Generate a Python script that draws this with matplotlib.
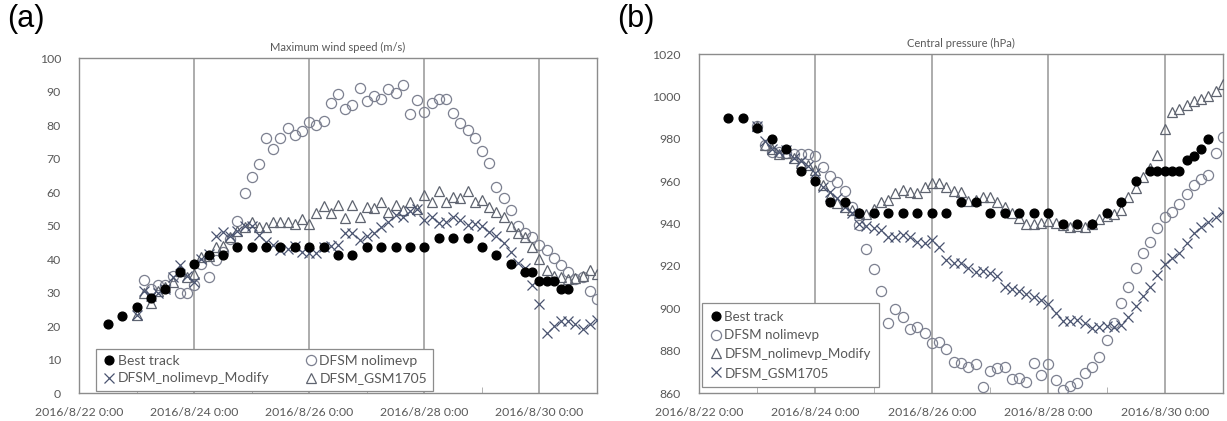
#Chart: typhoon track forecasts, wind speed (a) and central pressure (b)
import pandas as pd
import matplotlib
matplotlib.use('Agg')
import matplotlib.pyplot as plt
import matplotlib.dates as mdates

#Best track (hours after 2016/8/22 0:00)
best_wind_hours = [12, 18, 24, 30, 36, 42, 48, 54, 60, 66, 72, 78, 84, 90, 96, 102, 108, 114,
                   120, 126, 132, 138, 144, 150, 156, 162, 168, 174, 180, 186, 189, 192, 195, 198, 201, 204]
best_wind = [20.6, 23.1, 25.7, 28.3, 30.9, 36.0, 38.6, 41.2, 41.2, 43.7, 43.7, 43.7, 43.7, 43.7, 43.7, 43.7,
             41.2, 41.2, 43.7, 43.7, 43.7, 43.7, 43.7, 46.3, 46.3, 46.3, 43.7, 41.2, 38.6, 36.0, 36.0,
             33.4, 33.4, 33.4, 30.9, 30.9]
best_pres_hours = [12, 18, 24, 30, 36, 42, 48, 54, 60, 66, 72, 78, 84, 90, 96, 102, 108, 114,
                   120, 126, 132, 138, 144, 150, 156, 162, 168, 174, 180, 186, 189, 192, 195, 198, 201, 204, 207, 210]
best_pres = [990, 990, 985, 980, 975, 965, 960, 950, 950, 945, 945, 945, 945, 945, 945, 945, 950, 950,
             945, 945, 945, 945, 945, 940, 940, 940, 945, 950, 960, 965, 965, 965, 965, 965, 970, 972, 975, 980]

#Model runs, every 3 h from 2016/8/23 0:00 (wind of nolimevp starts at 3:00)
nolimevp_wind = [33.7, 31.0, 32.2, 32.2, 35.0, 29.8, 30.0, 32.3, 38.5, 34.7, 39.7, 42.0, 45.9, 51.4, 59.8, 64.4,
                 68.4, 76.0, 72.8, 76.0, 79.2, 77.0, 78.3, 80.8, 80.0, 81.3, 86.7, 89.2, 84.7, 85.9, 91.0, 87.2,
                 88.8, 87.8, 90.7, 89.5, 91.9, 83.3, 87.5, 84.0, 86.7, 87.7, 87.7, 83.5, 80.5, 78.5, 76.0, 72.3,
                 68.6, 61.4, 58.1, 54.6, 49.9, 47.9, 46.5, 44.2, 42.7, 40.2, 38.2, 36.2, 34.0, 34.5, 30.5, 28.0]
modify_wind = [23.3, 30.5, 29.0, 30.0, 31.0, 34.5, 38.2, 35.0, 33.0, 40.0, 41.5, 47.0, 48.2, 47.0, 48.5, 50.0,
               50.0, 47.2, 45.2, 44.2, 42.7, 43.0, 44.0, 42.2, 41.7, 41.7, 43.5, 44.0, 44.2, 47.7, 47.7, 45.7,
               46.9, 47.7, 49.6, 51.1, 53.1, 52.6, 54.2, 54.8, 51.6, 52.6, 50.6, 51.1, 52.6, 51.6, 50.1, 50.4,
               49.9, 48.2, 47.0, 44.7, 42.0, 38.7, 37.2, 32.2, 26.6, 17.8, 20.0, 21.5, 21.6, 20.6, 19.0, 20.7, 21.8]
gsm_wind = [23.3, 30.0, 26.8, 30.5, 31.5, 33.0, 36.5, 34.5, 35.5, 40.5, 41.0, 43.5, 44.0, 46.5, 48.5, 49.5,
            51.0, 49.5, 49.5, 51.0, 51.0, 51.0, 50.4, 52.0, 50.5, 53.6, 55.8, 53.6, 56.1, 52.1, 56.0, 52.6,
            55.6, 55.3, 57.0, 54.0, 56.1, 54.5, 57.1, 55.0, 59.1, 57.1, 60.4, 57.1, 58.6, 58.2, 60.4, 57.1,
            57.6, 55.5, 54.1, 52.4, 49.8, 47.7, 46.5, 43.5, 39.9, 36.7, 35.0, 34.6, 34.0, 34.3, 34.8, 36.7, 35.5]

nolimevp_pres = [986, 977, 974, 974, 973.5, 973, 972.8, 973, 972, 966.5, 962.4, 959.8, 955.5, 948, 939.3, 927.8,
                 918.4, 908.3, 892.9, 899.5, 895.7, 890, 891, 888.5, 883.5, 884, 880.8, 874.8, 874.3, 872.4, 873.6,
                 862.7, 870.5, 871.6, 872.4, 866.5, 867.2, 865.4, 874, 868.5, 873.7, 866.2, 861.4, 863.3, 864.9,
                 869.6, 872.4, 876.9, 885, 892.9, 902.6, 910.2, 918.9, 926.2, 931.4, 937.7, 943, 945.6, 949, 954,
                 958, 961, 963, 973.4, 981]
modify_pres = [986, 977, 975, 973, 973.5, 971, 968.4, 967.5, 965.3, 958.2, 953, 949.5, 948, 946.4, 945, 944.5,
               947, 950, 951, 954.2, 955.8, 955, 954.6, 957.4, 959.3, 959.3, 957.4, 955.5, 955, 950.8, 951.3,
               952.7, 952.7, 950.3, 947.7, 944.8, 942.5, 940, 940, 940.3, 941.4, 940.3, 939.3, 938.5, 938.7,
               938.2, 940, 942, 943.5, 944.6, 946.5, 952.4, 956.6, 961.8, 966, 972.3, 984.5, 992.8, 993.9, 996,
               998, 998.8, 1000.2, 1002.7, 1005.8]
gsm_pres = [986, 979, 975, 974, 974.5, 971, 969.5, 967, 964, 957.4, 955, 951.9, 948, 945, 939.8, 939, 937.7,
            936.9, 933.5, 933.5, 934.6, 933.5, 931.4, 931, 932.4, 928.8, 922.8, 921.5, 921.3, 919, 917.3, 917.6,
            916.8, 915.2, 910.2, 909, 908.3, 906.7, 905.2, 903.9, 902, 897.9, 894.1, 894.1, 894.3, 893.2, 890.5,
            891.3, 891.5, 891.3, 892.1, 895.7, 901.1, 905.8, 910.2, 915.7, 920.9, 923.6, 926, 930.7, 935.4,
            938.5, 940.9, 943.2, 945.6]

#Tiempos
t0 = pd.Timestamp('2016-08-22 00:00')
best_wind_t = t0 + pd.to_timedelta(best_wind_hours, unit='h')
best_pres_t = t0 + pd.to_timedelta(best_pres_hours, unit='h')
model_t = pd.date_range('2016-08-23 00:00', periods=len(modify_wind), freq='3h')
nolim_wind_t = pd.date_range('2016-08-23 03:00', periods=len(nolimevp_wind), freq='3h')

tick_font = ['Lato', 'DejaVu Sans']
gray_txt = '#595959'
grid_col = '#a6a6a6'
circle_col = '#7c8090'
tri_col = '#5f6470'
x_col = '#4a5470'

fig = plt.figure(figsize=(12.27, 4.21), dpi=100)
ax1 = fig.add_axes([0.0644, 0.0665, 0.4222, 0.7957])
ax2 = fig.add_axes([0.5697, 0.0665, 0.4270, 0.8050])

def style_axes(ax, title):
    ax.set_xlim(pd.Timestamp('2016-08-22'), pd.Timestamp('2016-08-31'))
    ax.xaxis.set_major_locator(mdates.DayLocator(bymonthday=[22, 24, 26, 28, 30]))
    ax.xaxis.set_minor_locator(mdates.DayLocator(bymonthday=[23, 25, 27, 29]))
    ax.xaxis.set_major_formatter(mdates.DateFormatter('%Y/%-m/%d %-H:%M'))
    ax.grid(True, axis='x', which='major', color=grid_col, linewidth=1.3)
    ax.tick_params(axis='x', which='major', length=0, pad=10)
    ax.tick_params(axis='x', which='minor', direction='in', length=4, color=grid_col)
    ax.tick_params(axis='y', length=0, pad=13)
    for lab in ax.get_xticklabels() + ax.get_yticklabels():
        lab.set_family(tick_font)
        lab.set_fontsize(8.8)
        lab.set_color(gray_txt)
    for sp in ax.spines.values():
        sp.set_color('#8c8c8c')
        sp.set_linewidth(1.0)
    ax.set_title(title, fontsize=8, color=gray_txt, family=tick_font, pad=5)

#(a) Maximum wind speed
b1, = ax1.plot(best_wind_t, best_wind, 'o', color='black', ms=6.3, linestyle='none', label='Best track', zorder=5)
c1, = ax1.plot(nolim_wind_t, nolimevp_wind, 'o', mfc='none', mec=circle_col, ms=7.3, mew=0.9,
               linestyle='none', label='DFSM nolimevp', zorder=3)
x1, = ax1.plot(model_t, modify_wind, 'x', color=x_col, ms=6.5, mew=0.9, linestyle='none',
               label='DFSM_nolimevp_Modify', zorder=4)
t1, = ax1.plot(model_t, gsm_wind, '^', mfc='none', mec=tri_col, ms=7, mew=0.9, linestyle='none',
               label='DFSM_GSM1705', zorder=3)
ax1.set_ylim(0, 100)
ax1.set_yticks(range(0, 101, 10))
style_axes(ax1, 'Maximum wind speed (m/s)')
leg1 = ax1.legend(handles=[b1, x1, c1, t1], ncol=2, loc='lower left', bbox_to_anchor=(0.033, 0.007),
                  borderaxespad=0, frameon=True, fancybox=False, framealpha=1, edgecolor='#8c8c8c',
                  prop={'family': tick_font, 'size': 10}, handletextpad=0.1, handlelength=1.0,
                  columnspacing=2.5, labelcolor=gray_txt, borderpad=0.45, labelspacing=0.4)
leg1.get_frame().set_linewidth(0.9)

#(b) Central pressure
b2, = ax2.plot(best_pres_t, best_pres, 'o', color='black', ms=6.3, linestyle='none', label='Best track', zorder=5)
c2, = ax2.plot(model_t, nolimevp_pres, 'o', mfc='none', mec=circle_col, ms=7.3, mew=0.9,
               linestyle='none', label='DFSM nolimevp', zorder=3)
t2, = ax2.plot(model_t, modify_pres, '^', mfc='none', mec=tri_col, ms=7, mew=0.9, linestyle='none',
               label='DFSM_nolimevp_Modify', zorder=3)
x2, = ax2.plot(model_t, gsm_pres, 'x', color=x_col, ms=6.5, mew=0.9, linestyle='none',
               label='DFSM_GSM1705', zorder=4)
ax2.set_ylim(860, 1020)
ax2.set_yticks(range(860, 1021, 20))
style_axes(ax2, 'Central pressure (hPa)')
leg2 = ax2.legend(handles=[b2, c2, t2, x2], ncol=1, loc='lower left', bbox_to_anchor=(0.005, 0.019),
                  borderaxespad=0, frameon=True, fancybox=False, framealpha=1, edgecolor='#8c8c8c',
                  prop={'family': tick_font, 'size': 9.6}, handletextpad=0.1, handlelength=1.0,
                  labelcolor=gray_txt, borderpad=0.6, labelspacing=0.5)
leg2.get_frame().set_linewidth(0.9)

fig.text(0.006, 0.99, '(a)', fontsize=22, family='Liberation Sans', va='top', ha='left')
fig.text(0.503, 0.99, '(b)', fontsize=22, family='Liberation Sans', va='top', ha='left')

plt.savefig('out.png', dpi=100)
